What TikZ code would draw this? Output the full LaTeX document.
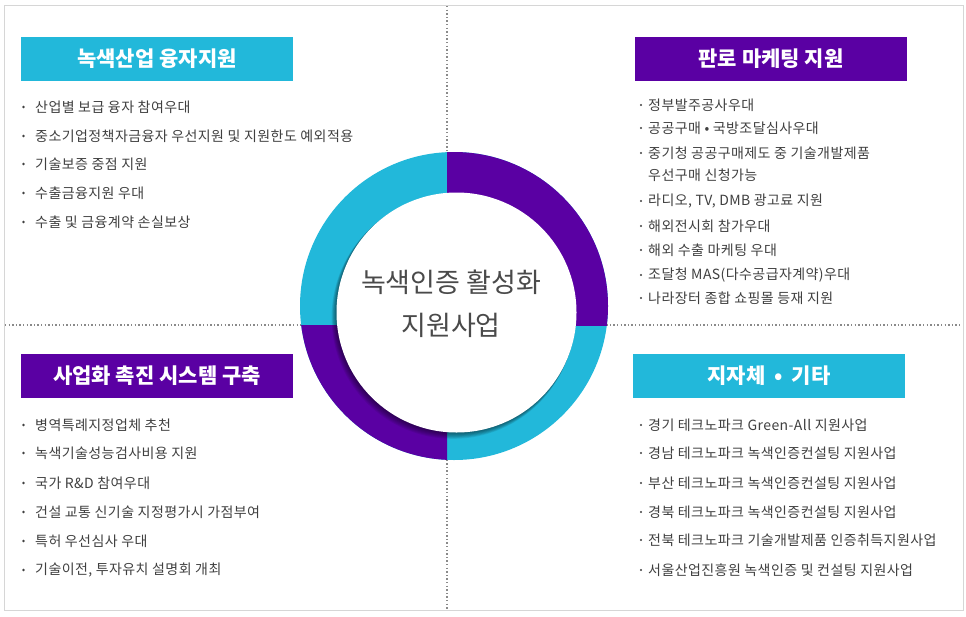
\documentclass[tikz,border=0pt]{standalone}
\usepackage{fontspec}
\usetikzlibrary{calc}
\setmainfont{Noto Sans CJK KR}
\definecolor{cy}{HTML}{22B8DA}
\definecolor{pu}{HTML}{5A00A3}
\definecolor{txt}{HTML}{404040}
\definecolor{ctxt}{HTML}{4A4A4A}
\definecolor{frame}{HTML}{D6D6D6}
\definecolor{dotc}{HTML}{8A8A8A}
\tikzset{
  hdr/.style={minimum width=272pt, minimum height=44pt, inner sep=0pt, text=white, font=\fontsize{21}{24}\selectfont\bfseries},
  item/.style={anchor=west, inner sep=0pt, text=txt, font=\fontsize{14}{16}\selectfont\addfontfeature{LetterSpace=3}},
  bul/.style={fill=txt, draw=none},
  dotline/.style={dotc, line width=1.3pt, dash pattern=on 1.3pt off 2.3pt},
  ctr/.style={text=ctxt, font=\fontsize{27}{30}\selectfont, align=center, inner sep=0pt},
}
\begin{document}
\begin{tikzpicture}[x=1pt,y=-1pt]
\useasboundingbox (0,0) rectangle (966,616);
\fill[white] (0,0) rectangle (966,616);
% frame
\draw[frame, line width=1pt] (4,5) rectangle (963,610);
% dotted cross
\coordinate (vt) at (447,6);
\coordinate (vb) at (447,609);
\coordinate (hl) at (5,325);
\coordinate (hr) at (962,325);
\draw[dotline] (vt) -- (vb);
\draw[dotline] (hl) -- (hr);
% ring
\coordinate (rc) at (454,306);
\coordinate (ic) at (456.5,312.5);
\fill[cy] (rc) circle[radius=154pt];
\begin{scope}
  \clip (447,0) rectangle (966,325);
  \fill[pu] (rc) circle[radius=154pt];
\end{scope}
\begin{scope}
  \clip (0,325) rectangle (447,616);
  \fill[pu] (rc) circle[radius=154pt];
\end{scope}
% inner shadow
\foreach \k in {1,...,7}{
  \fill[black, opacity=0.08] ($(ic)+(-0.5*\k,0.7*\k)$) circle[radius={120pt+0.2pt*\k}];
}
\fill[white] (ic) circle[radius=120pt];
% center text
\node[ctr] (ct1) at (451,282) {녹색인증 활성화};
\node[ctr] (ct2) at (451,325) {지원사업};
% headers
\node[hdr, fill=cy] (h1) at (157,59) {녹색산업 융자지원};
\node[hdr, fill=pu] (h2) at (771,59) {판로 마케팅 지원};
\node[hdr, fill=pu] (h3) at (157,375.5) {사업화 촉진 시스템 구축};
\node[hdr, fill=cy] (h4) at (769,375.5) {지자체\hspace{9pt}•\hspace{9pt}기타};
% top-left list
\foreach \y/\t [count=\i] in {107/{산업별 보급 융자 참여우대}, 136/{중소기업정책자금융자 우선지원 및 지원한도 예외적용}, 164/{기술보증 중점 지원}, 193/{수출금융지원 우대}, 222/{수출 및 금융계약 손실보상}}{
  \fill[bul] (23.5,\y) circle[radius=1.3pt];
  \node[item] (a\i) at (35,\y) {\t};
}
% top-right list
\foreach \y/\t [count=\i] in {105/{정부발주공사우대}, 128/{공공구매 • 국방조달심사우대}, 153/{중기청 공공구매제도 중 기술개발제품}, 201/{라디오, TV, DMB 광고료 지원}, 226/{해외전시회 참가우대}, 250/{해외 수출 마케팅 우대}, 275/{조달청 MAS(다수공급자계약)우대}, 298/{나라장터 종합 쇼핑몰 등재 지원}}{
  \fill[bul] (641,\y) circle[radius=1.2pt];
  \node[item] (b\i) at (648,\y) {\t};
}
\node[item] (b3b) at (648,175) {우선구매 신청가능};
% bottom-left list
\foreach \y/\t [count=\i] in {425/{병역특례지정업체 추천}, 453/{녹색기술성능검사비용 지원}, 483/{국가 R\&D 참여우대}, 512/{건설 교통 신기술 지정평가시 가점부여}, 541/{특허 우선심사 우대}, 570/{기술이전, 투자유치 설명회 개최}}{
  \fill[bul] (23.5,\y) circle[radius=1.3pt];
  \node[item] (c\i) at (35,\y) {\t};
}
% bottom-right list
\foreach \y/\t [count=\i] in {425/{경기 테크노파크 Green-All 지원사업}, 453/{경남 테크노파크 녹색인증컨설팅 지원사업}, 483/{부산 테크노파크 녹색인증컨설팅 지원사업}, 512/{경북 테크노파크 녹색인증컨설팅 지원사업}, 540/{전북 테크노파크 기술개발제품 인증취득지원사업}, 570/{서울산업진흥원 녹색인증 및 컨설팅 지원사업}}{
  \fill[bul] (641,\y) circle[radius=1.2pt];
  \node[item] (d\i) at (648,\y) {\t};
}
\end{tikzpicture}
\end{document}
